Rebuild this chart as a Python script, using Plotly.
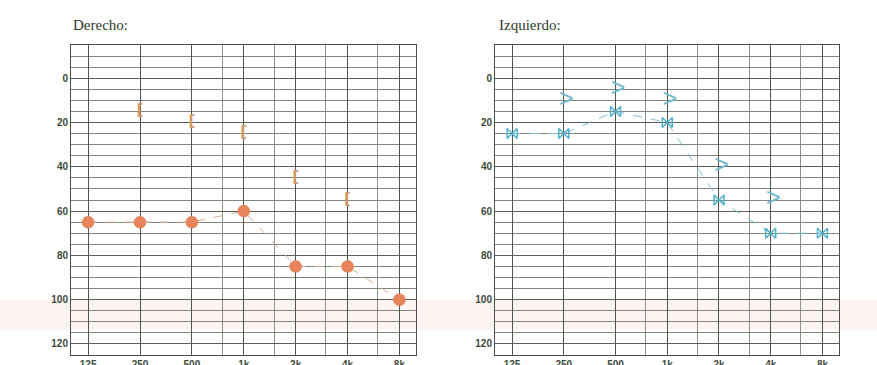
import math
import plotly.graph_objects as go
from plotly.subplots import make_subplots

# ---- data ----
freqs = [125, 250, 500, 1000, 2000, 4000, 8000]
freq_labels = ["125", "250", "500", "1k", "2k", "4k", "8k"]
mid_freqs = [750, 1500, 3000, 6000]
db_ticks = [0, 20, 40, 60, 80, 100, 120]

# Derecho (right ear)
right_ac = [65, 65, 65, 60, 85, 85, 100]
right_bc_freqs = [250, 500, 1000, 2000, 4000]
right_bc = [15, 20, 25, 45, 55]

# Izquierdo (left ear)
left_ac = [25, 25, 15, 20, 55, 70, 70]
left_bc_freqs = [250, 500, 1000, 2000, 4000]
left_bc = [10, 5, 10, 40, 55]

W, H = 877, 365
fig = make_subplots(rows=1, cols=2)

RED = "#e8845c"
RED_LINE = "#d9ab88"
BC_RED = "#cf9a6c"
BLUE = "#4fb0cc"
BLUE_LINE = "#7cc0d6"
BC_BLUE = "#72b8cf"

# right ear
fig.add_trace(go.Scatter(x=freqs, y=right_ac, mode="lines+markers",
                         line=dict(color=RED_LINE, width=1, dash="dash"),
                         marker=dict(symbol="circle", size=12, color=RED,
                                     line=dict(color="#d9734d", width=0.5)),
                         showlegend=False), row=1, col=1)
fig.add_trace(go.Scatter(x=right_bc_freqs, y=right_bc, mode="text",
                         text=["["] * len(right_bc), textposition="middle center",
                         textfont=dict(family="DejaVu Sans", size=15, weight="bold", color=BC_RED),
                         showlegend=False), row=1, col=1)

# left ear
fig.add_trace(go.Scatter(x=freqs, y=left_ac, mode="lines+markers",
                         line=dict(color=BLUE_LINE, width=1, dash="dash"),
                         marker=dict(symbol="bowtie-open", size=10, color=BLUE,
                                     line=dict(color=BLUE, width=1.5)),
                         showlegend=False), row=1, col=2)
fig.add_trace(go.Scatter(x=left_bc_freqs, y=left_bc, mode="text",
                         text=["\u2009>"] * len(left_bc), textposition="middle center",
                         textfont=dict(family="Liberation Sans", size=25, color=BC_BLUE),
                         showlegend=False), row=1, col=2)

lo = math.log10(125) - 0.33 * math.log10(2)
hi = math.log10(8000) + 0.32 * math.log10(2)

tickfont = dict(family="Liberation Sans, Arial", size=10, color="#3c4a3c")
xdomains = [[71 / W, 416 / W], [495 / W, 839 / W]]
ydomain = [1 - 355 / H, 1 - 45 / H]

for i, dom in enumerate(xdomains, start=1):
    xa = "xaxis" if i == 1 else f"xaxis{i}"
    ya = "yaxis" if i == 1 else f"yaxis{i}"
    fig.update_layout({
        xa: dict(type="log", range=[lo, hi], domain=dom,
                 tickvals=freqs, ticktext=[f"<b>{t}</b>" for t in freq_labels],
                 tickfont=tickfont, ticks="", showgrid=True,
                 gridcolor="#4e574e", gridwidth=1,
                 minor=dict(tickvals=mid_freqs, showgrid=True, gridcolor="#8a928a", gridwidth=1, ticks=""),
                 showline=True, linecolor="#4a524a", linewidth=1, mirror=True,
                 zeroline=False, fixedrange=True, automargin=False),
        ya: dict(range=[125, -15], domain=ydomain,
                 tickvals=db_ticks, ticktext=[f"<b>{t}</b>" for t in db_ticks],
                 tickfont=tickfont, ticks="", showgrid=True,
                 gridcolor="#555e55", gridwidth=1,
                 minor=dict(dtick=5, tick0=0, showgrid=True, gridcolor="#7d857d", gridwidth=1, ticks=""),
                 showline=True, linecolor="#4a524a", linewidth=1, mirror=True,
                 zeroline=False, fixedrange=True, automargin=False),
    })

# titles
fig.add_annotation(text="Derecho:", x=71 / W, y=1 - 25 / H, xref="paper", yref="paper",
                   xanchor="left", yanchor="middle", showarrow=False,
                   font=dict(family="Liberation Serif, Times New Roman", size=15, color="#2e3a2e"))
fig.add_annotation(text="Izquierdo:", x=497 / W, y=1 - 25 / H, xref="paper", yref="paper",
                   xanchor="left", yanchor="middle", showarrow=False,
                   font=dict(family="Liberation Serif, Times New Roman", size=15, color="#2e3a2e"))

# scan artefact: faint pink band
fig.add_shape(type="rect", xref="paper", yref="paper", x0=0, x1=1,
              y0=1 - 330 / H, y1=1 - 300 / H, fillcolor="rgba(240,165,145,0.12)",
              line=dict(width=0), layer="below")

fig.update_layout(width=W, height=H, margin=dict(l=0, r=0, t=0, b=0),
                  paper_bgcolor="white", plot_bgcolor="rgba(0,0,0,0)",
                  showlegend=False)

fig.write_html("out.html", config={"displayModeBar": False},
               post_script="document.body.style.margin='0px';")
